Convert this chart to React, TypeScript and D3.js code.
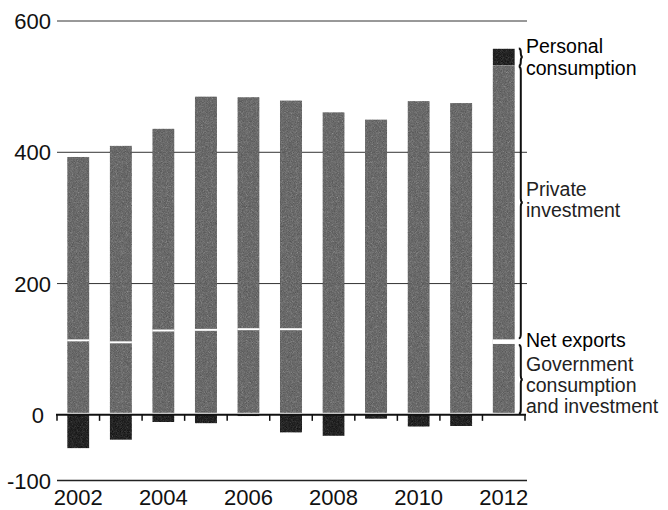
import React from "react";
import * as d3 from "d3";

const years = [2002, 2003, 2004, 2005, 2006, 2007, 2008, 2009, 2010, 2011, 2012];
const government = [112, 109, 127, 128, 129, 129, 125, 125, 125, 125, 108];
const netExports = [3, 3, 3, 3, 3, 3, 0, 0, 0, 0, 7];
const privateInvestment = [278, 298, 306, 354, 352, 347, 336, 325, 353, 350, 417];
const personalConsumption = [-51, -38, -11, -13, -2, -27, -32, -6, -18, -17, 26];
const yTicks = [-100, 0, 200, 400, 600];
const xTickLabels = [2002, 2004, 2006, 2008, 2010, 2012];
const legendPersonal = ["Personal", "consumption"];
const legendPrivate = ["Private", "investment"];
const legendNet = ["Net exports"];
const legendGov = ["Government", "consumption", "and investment"];

const W = 668;
const H = 510;
const FONT = "'Liberation Sans', Arial, Helvetica, sans-serif";
const GRAY = "#8a8a8a";
const DARK = "#444444";

function bracePath(x: number, y0: number, y1: number, w: number, ym: number) {
  const r = Math.min(4, (y1 - y0) / 4);
  return `M${x},${y0} Q${x + w},${y0} ${x + w},${y0 + r} L${x + w},${ym - r} Q${x + w},${ym} ${x + 2 * w},${ym} Q${x + w},${ym} ${x + w},${ym + r} L${x + w},${y1 - r} Q${x + w},${y1} ${x},${y1}`;
}

export default function App() {
  const x = d3
    .scaleBand<number>()
    .domain(years)
    .range([57, 525])
    .paddingInner(0.48)
    .paddingOuter(0.24);
  const y = d3.scaleLinear().domain([-100, 600]).range([480.5, 21]);
  const step = x.step();
  const bw = x.bandwidth();

  const stacks = years.map((yr, i) => {
    const g1 = government[i];
    const n1 = g1 + netExports[i];
    const p1 = n1 + privateInvestment[i];
    const pc = personalConsumption[i];
    return { yr, i, g1, n1, p1, pc };
  });

  const last = stacks[stacks.length - 1];
  const bx = (x(last.yr) as number) + bw;
  const braceX = bx + 4;
  const labelX = 526;
  const lh = 21.3;
  const fs = 19.5;

  const labelBlock = (lines: string[], center: number, nudge: number, color: string) => {
    const y0 = center - ((lines.length - 1) * lh) / 2 + 7 + nudge;
    return (
      <text x={labelX} y={y0} fontSize={fs} fill={color} fontFamily={FONT}>
        {lines.map((t, k) => (
          <tspan key={t + k} x={labelX} y={y0 + k * lh}>
            {t}
          </tspan>
        ))}
      </text>
    );
  };

  return (
    <svg
      width={W}
      height={H}
      style={{ position: "absolute", left: 0, top: 0, background: "#fff" }}
    >
      <defs>
        <filter id="grain" x="0" y="0" width="100%" height="100%" colorInterpolationFilters="sRGB">
          <feTurbulence type="fractalNoise" baseFrequency="1.2" numOctaves="1" seed="4" result="n" />
          <feColorMatrix in="n" type="saturate" values="0" result="g" />
          <feComposite in="SourceGraphic" in2="g" operator="arithmetic" k1="0" k2="1" k3="0.6" k4="-0.3" result="c" />
          <feComposite in="c" in2="SourceGraphic" operator="in" />
        </filter>
      </defs>
      {/* gridlines */}
      {yTicks
        .filter((t) => t !== 0)
        .map((t) => (
          <line
            key={t}
            x1={57}
            x2={527}
            y1={y(t)}
            y2={y(t)}
            stroke={t === -100 ? "#222" : "#333"}
            strokeWidth={t === -100 ? 1.3 : 1}
          />
        ))}
      {/* bars */}
      {stacks.map((s) => {
        const bxs = x(s.yr) as number;
        return (
          <g key={s.yr}>
            <rect x={bxs} y={y(s.p1)} width={bw} height={y(0) - y(s.p1) - 2} fill={GRAY} filter="url(#grain)" />
            {s.pc > 0 && (
              <rect x={bxs} y={y(s.p1 + s.pc)} width={bw} height={y(s.p1) - y(s.p1 + s.pc)} fill={DARK} filter="url(#grain)" />
            )}
            {s.pc < 0 && (
              <rect x={bxs} y={y(0)} width={bw} height={y(s.pc) - y(0)} fill={DARK} filter="url(#grain)" />
            )}
            {netExports[s.i] > 0 && (
              <rect
                x={bxs}
                y={y(s.n1)}
                width={s.i === years.length - 1 ? braceX + 4 - bxs : bw}
                height={Math.max(1.5, y(s.g1) - y(s.n1))}
                fill="#fff"
              />
            )}
          </g>
        );
      })}
      {/* zero axis */}
      <line x1={56} x2={526} y1={y(0)} y2={y(0)} stroke="#111" strokeWidth={2} />
      {d3.range(years.length + 1).map((k) => (
        <line
          key={k}
          x1={57 + k * step}
          x2={57 + k * step}
          y1={y(0)}
          y2={y(0) + 6}
          stroke="#111"
          strokeWidth={1.5}
        />
      ))}
      {/* y labels */}
      {yTicks.map((t) => (
        <text
          key={t}
          x={t === 0 ? 44 : 51}
          y={y(t) + 8}
          textAnchor="end"
          fontSize={22}
          fontFamily={FONT}
          fill="#111"
        >
          {t}
        </text>
      ))}
      {/* x labels */}
      {xTickLabels.map((yr) => (
        <text
          key={yr}
          x={(x(yr) as number) + bw / 2}
          y={505}
          textAnchor="middle"
          fontSize={22}
          fontFamily={FONT}
          fill="#111"
        >
          {yr}
        </text>
      ))}
      {/* braces */}
      <g fill="none" stroke="#111" strokeWidth={2}>
        <path d={bracePath(braceX, y(last.p1 + last.pc), y(last.p1), 2, (y(last.p1 + last.pc) + y(last.p1)) / 2)} />
        <path d={bracePath(braceX, y(last.p1) + 1, y(last.n1) - 1, 2, (y(last.p1) + y(last.n1)) / 2)} />
        <path d={bracePath(braceX, y(last.g1) + 1, y(0) - 1, 2, (y(last.g1) + y(0)) / 2)} />
      </g>
      {/* legend labels */}
      {labelBlock(legendPersonal, (y(last.p1 + last.pc) + y(last.p1)) / 2, 0, "#000")}
      {labelBlock(legendPrivate, (y(last.p1) + y(last.n1)) / 2, -3, "#222")}
      {labelBlock(legendNet, (y(last.n1) + y(last.g1)) / 2, -1.5, "#000")}
      {labelBlock(legendGov, (y(last.g1) + y(0)) / 2, 5.5, "#222")}
    </svg>
  );
}
